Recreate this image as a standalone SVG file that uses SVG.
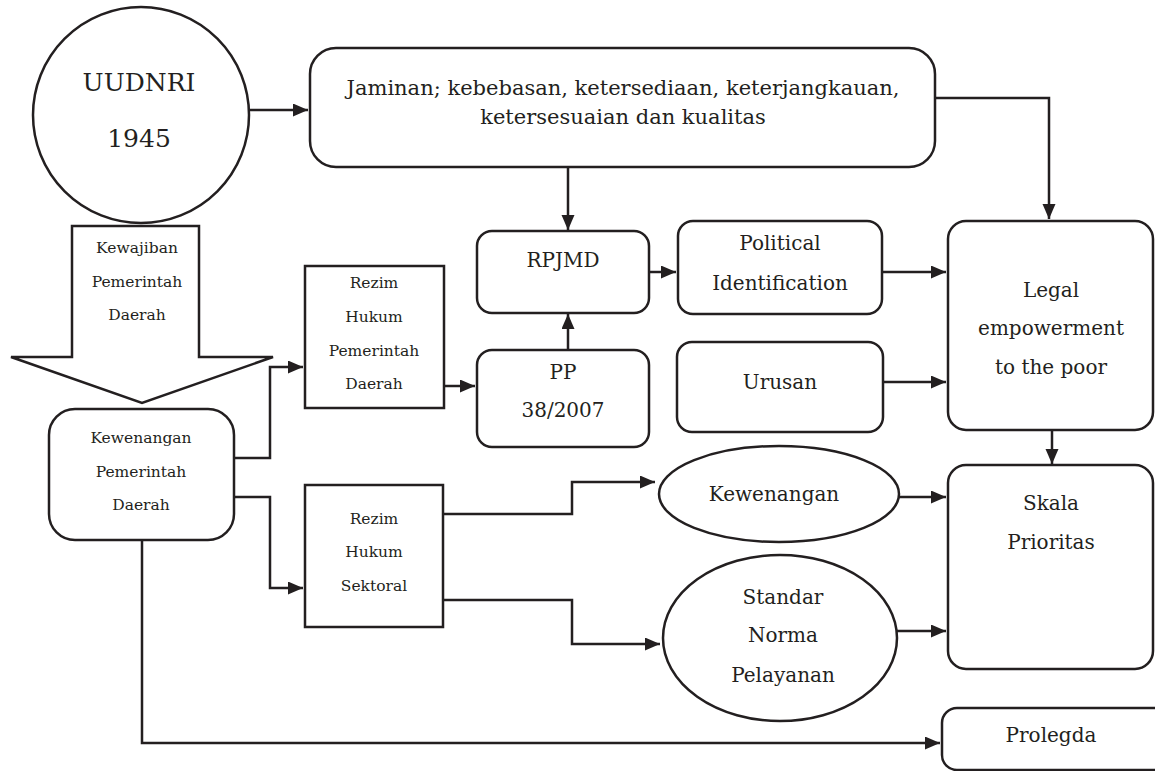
<svg xmlns="http://www.w3.org/2000/svg" width="1155" height="771" viewBox="0 0 1155 771">
  <style>
    .shape { fill: #ffffff; stroke: #231f20; stroke-width: 2.5; }
    .wire { fill: none; stroke: #231f20; stroke-width: 2.5; }
    text { font-family: "DejaVu Serif", "Liberation Serif", serif; fill: #231f20; text-anchor: middle; dominant-baseline: central; }
    .big { font-size: 25px; }
    .wide { font-size: 21px; }
    .mid { font-size: 20px; }
    .small { font-size: 15.5px; }
  </style>
  <defs>
    <marker id="arrow" markerUnits="userSpaceOnUse" markerWidth="16" markerHeight="14" refX="15" refY="6.5" orient="auto">
      <path d="M0,0 L15,6.5 L0,13 z" fill="#231f20"/>
    </marker>
  </defs>

  <!-- connectors -->
  <g id="connectors">
    <path class="wire" d="M249 110 H308" marker-end="url(#arrow)"/>
    <path class="wire" d="M935 98 H1049 V219" marker-end="url(#arrow)"/>
    <path class="wire" d="M568 167 V230" marker-end="url(#arrow)"/>
    <path class="wire" d="M234 458 H270 V367 H303" marker-end="url(#arrow)"/>
    <path class="wire" d="M234 497 H270 V588 H303" marker-end="url(#arrow)"/>
    <path class="wire" d="M142 540 V743 H940" marker-end="url(#arrow)"/>
    <path class="wire" d="M444 386 H475" marker-end="url(#arrow)"/>
    <path class="wire" d="M568 350 V314" marker-end="url(#arrow)"/>
    <path class="wire" d="M649 272 H676" marker-end="url(#arrow)"/>
    <path class="wire" d="M882 272 H946" marker-end="url(#arrow)"/>
    <path class="wire" d="M883 382 H946" marker-end="url(#arrow)"/>
    <path class="wire" d="M1052 430 V464" marker-end="url(#arrow)"/>
    <path class="wire" d="M443 514 H572 V482 H655" marker-end="url(#arrow)"/>
    <path class="wire" d="M443 600 H572 V644 H660" marker-end="url(#arrow)"/>
    <path class="wire" d="M899 497 H946" marker-end="url(#arrow)"/>
    <path class="wire" d="M897 631 H946" marker-end="url(#arrow)"/>
  </g>

  <g id="uudnri">
    <circle class="shape" cx="141" cy="115" r="108"/>
    <text class="big" x="139" y="82">UUDNRI</text>
    <text class="big" x="139" y="138">1945</text>
  </g>

  <g id="jaminan">
    <rect class="shape" x="310" y="48" width="625" height="119" rx="26"/>
    <text class="wide" x="623" y="88">Jaminan; kebebasan, ketersediaan, keterjangkauan,</text>
    <text class="wide" x="623" y="117">ketersesuaian dan kualitas</text>
  </g>

  <g id="kewajiban">
    <polygon class="shape" points="72,226 199,226 199,357 273,357 142,403 11,357 72,357"/>
    <text class="small" x="137" y="248">Kewajiban</text>
    <text class="small" x="137" y="282">Pemerintah</text>
    <text class="small" x="137" y="315">Daerah</text>
  </g>

  <g id="kewenangan-pemda">
    <rect class="shape" x="49" y="409" width="185" height="131" rx="26"/>
    <text class="small" x="141" y="438">Kewenangan</text>
    <text class="small" x="141" y="472">Pemerintah</text>
    <text class="small" x="141" y="505">Daerah</text>
  </g>

  <g id="rezim-pemda">
    <rect class="shape" x="305" y="266" width="139" height="142"/>
    <text class="small" x="374" y="283">Rezim</text>
    <text class="small" x="374" y="317">Hukum</text>
    <text class="small" x="374" y="351">Pemerintah</text>
    <text class="small" x="374" y="384">Daerah</text>
  </g>

  <g id="rezim-sektoral">
    <rect class="shape" x="305" y="485" width="138" height="142"/>
    <text class="small" x="374" y="519">Rezim</text>
    <text class="small" x="374" y="552">Hukum</text>
    <text class="small" x="374" y="586">Sektoral</text>
  </g>

  <g id="rpjmd">
    <rect class="shape" x="477" y="231" width="172" height="82" rx="15"/>
    <text class="mid" x="563" y="260">RPJMD</text>
  </g>

  <g id="pp">
    <rect class="shape" x="477" y="350" width="172" height="97" rx="15"/>
    <text class="mid" x="563" y="372">PP</text>
    <text class="mid" x="563" y="410">38/2007</text>
  </g>

  <g id="political">
    <rect class="shape" x="678" y="221" width="204" height="93" rx="15"/>
    <text class="mid" x="780" y="243">Political</text>
    <text class="mid" x="780" y="283">Identification</text>
  </g>

  <g id="urusan">
    <rect class="shape" x="677" y="342" width="206" height="90" rx="15"/>
    <text class="mid" x="780" y="382">Urusan</text>
  </g>

  <g id="legal">
    <rect class="shape" x="948" y="221" width="205" height="209" rx="18"/>
    <text class="mid" x="1051" y="290">Legal</text>
    <text class="mid" x="1051" y="328">empowerment</text>
    <text class="mid" x="1051" y="367">to the poor</text>
  </g>

  <g id="kewenangan">
    <ellipse class="shape" cx="779" cy="494" rx="120" ry="48"/>
    <text class="mid" x="774" y="494">Kewenangan</text>
  </g>

  <g id="standar">
    <ellipse class="shape" cx="780" cy="638" rx="117" ry="83"/>
    <text class="mid" x="783" y="597">Standar</text>
    <text class="mid" x="783" y="635">Norma</text>
    <text class="mid" x="783" y="675">Pelayanan</text>
  </g>

  <g id="skala">
    <rect class="shape" x="948" y="465" width="205" height="204" rx="18"/>
    <text class="mid" x="1051" y="503">Skala</text>
    <text class="mid" x="1051" y="542">Prioritas</text>
  </g>

  <g id="prolegda">
    <rect class="shape" x="942" y="708" width="240" height="62" rx="15"/>
    <text class="mid" x="1051" y="735">Prolegda</text>
  </g>
</svg>
